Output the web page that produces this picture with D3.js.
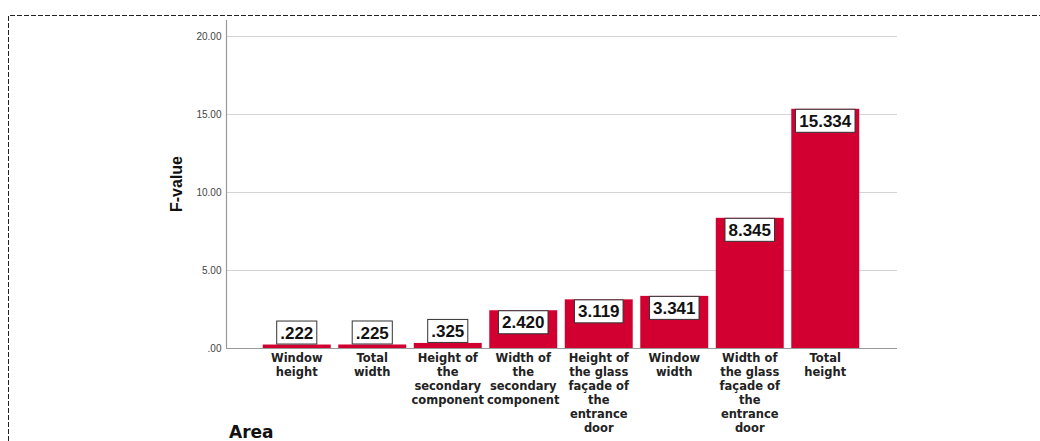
<!DOCTYPE html>
<html>
<head>
<meta charset="utf-8">
<script src="https://cdn.jsdelivr.net/npm/d3@7"></script>
<style>
  body { margin: 0; background: #fff; }
  svg { display: block; }
</style>
</head>
<body>
<div class="chart"></div>
<script>
// categories (x axis), each label split into lines as in the picture
const categories = [
  ["Window", "height"],
  ["Total", "width"],
  ["Height of", "the", "secondary", "component"],
  ["Width of", "the", "secondary", "component"],
  ["Height of", "the glass", "façade of", "the", "entrance", "door"],
  ["Window", "width"],
  ["Width of", "the glass", "façade of", "the", "entrance", "door"],
  ["Total", "height"]
]
const fValues = [0.222, 0.225, 0.325, 2.420, 3.119, 3.341, 8.345, 15.334]
const valueLabels = [".222", ".225", ".325", "2.420", "3.119", "3.341", "8.345", "15.334"]
const yTicks = [0, 5, 10, 15, 20]
const yTickLabels = [".00", "5.00", "10.00", "15.00", "20.00"]

const W = 1040, H = 441
const svg = d3.select(".chart")
  .append("svg")
    .attr("width", W)
    .attr("height", H)

// dashed frame (only top and left are visible in the picture)
svg.append("path")
  .attr("d", `M8.5,${H} V15.5 H${W}`)
  .attr("fill", "none")
  .attr("stroke", "#222")
  .attr("stroke-width", 1)
  .attr("stroke-dasharray", "5,2")

const plotLeft = 226, plotRight = 897
const x = d3.scaleBand()
  .domain(d3.range(categories.length))
  .range([259, 863])
  .paddingInner(0.1)
  .paddingOuter(0.05)

const y = d3.scaleLinear()
  .domain([0, 20])
  .range([348, 36])

// gridlines
svg.append("g")
  .selectAll("line")
  .data(yTicks.filter(d => d > 0))
  .join("line")
    .attr("x1", plotLeft)
    .attr("x2", plotRight)
    .attr("y1", d => Math.round(y(d)) + 0.5)
    .attr("y2", d => Math.round(y(d)) + 0.5)
    .attr("stroke", "#d4d4d4")
    .attr("stroke-width", 1.2)

// y axis
const yAxis = svg.append("g")
  .attr("transform", `translate(${plotLeft + 0.5},0)`)
  .call(d3.axisLeft(y).tickValues(yTicks).tickSize(0).tickPadding(5)
    .tickFormat((d, i) => yTickLabels[i]))
yAxis.select(".domain").remove()
yAxis.selectAll("text")
  .attr("fill", "#444")
  .style("font-family", "Arial, 'Liberation Sans', sans-serif")
  .style("font-size", "10px")

svg.append("line")
  .attr("x1", plotLeft + 0.5).attr("x2", plotLeft + 0.5)
  .attr("y1", 20).attr("y2", y(0))
  .attr("stroke", "#999")
  .attr("stroke-width", 1.2)

// bars
svg.append("g")
  .selectAll("rect")
  .data(fValues)
  .join("rect")
    .attr("x", (d, i) => x(i))
    .attr("y", d => y(d))
    .attr("width", x.bandwidth())
    .attr("height", d => y(0) - y(d))
    .attr("fill", "#d20030")

// x baseline
svg.append("line")
  .attr("x1", plotLeft).attr("x2", plotRight)
  .attr("y1", y(0) + 0.5).attr("y2", y(0) + 0.5)
  .attr("stroke", "#999")
  .attr("stroke-width", 1.2)

// value labels in boxes
const boxH = 24
const labels = svg.append("g")
  .selectAll("g")
  .data(fValues)
  .join("g")
    .attr("transform", (d, i) => {
      const barH = y(0) - y(d)
      const top = barH < boxH ? y(d) - boxH : y(d)
      return `translate(${x(i) + x.bandwidth() / 2},${top})`
    })
labels.append("text")
  .attr("text-anchor", "middle")
  .attr("y", boxH / 2)
  .attr("dy", "0.36em")
  .style("font-family", "Arial, 'Liberation Sans', sans-serif")
  .style("font-weight", "bold")
  .style("font-size", "17px")
  .attr("fill", "#111")
  .text((d, i) => valueLabels[i])
labels.each(function() {
  const g = d3.select(this)
  const bb = g.select("text").node().getBBox()
  g.insert("rect", "text")
    .attr("x", -bb.width / 2 - 3.5)
    .attr("y", 0.5)
    .attr("width", bb.width + 7)
    .attr("height", boxH - 1)
    .attr("fill", "#fff")
    .attr("stroke", "#333")
    .attr("stroke-width", 1)
})

// category labels
svg.append("g")
  .selectAll("text")
  .data(categories)
  .join("text")
    .attr("text-anchor", "middle")
    .attr("x", (d, i) => x(i) + x.bandwidth() / 2)
    .attr("y", 362)
    .style("font-family", "'DejaVu Sans', Verdana, sans-serif")
    .style("font-weight", "bold")
    .style("font-size", "11.5px")
    .attr("fill", "#222")
    .selectAll("tspan")
    .data(d => d)
    .join("tspan")
      .attr("x", function() { return this.parentNode.getAttribute("x") })
      .attr("dy", (d, i) => i === 0 ? 0 : 14)
      .text(d => d)

// axis titles
svg.append("text")
  .attr("transform", "translate(182,184) rotate(-90)")
  .attr("text-anchor", "middle")
  .style("font-family", "Arial, 'Liberation Sans', sans-serif")
  .style("font-weight", "bold")
  .style("font-size", "16px")
  .attr("fill", "#111")
  .text("F-value")

svg.append("text")
  .attr("x", 229)
  .attr("y", 438)
  .style("font-family", "'DejaVu Sans', Verdana, sans-serif")
  .style("font-weight", "bold")
  .style("font-size", "17px")
  .attr("fill", "#111")
  .text("Area")
</script>
</body>
</html>
